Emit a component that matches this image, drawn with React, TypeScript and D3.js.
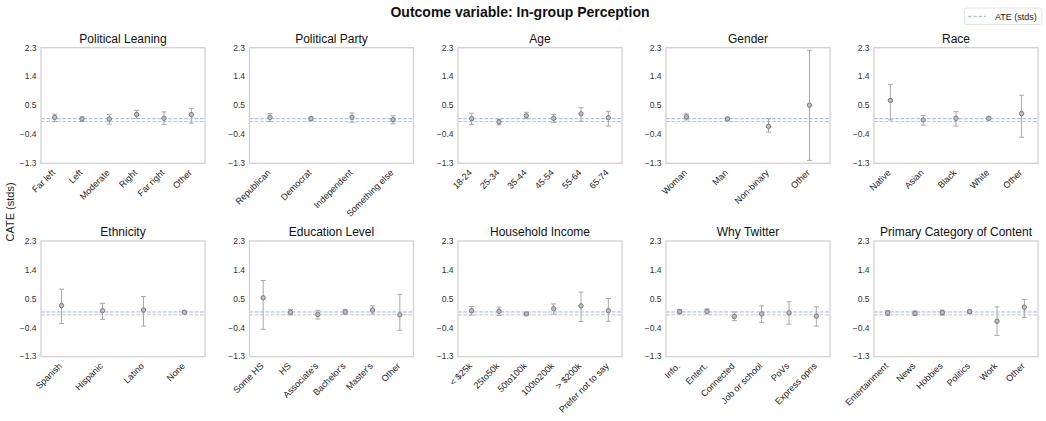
import * as d3 from 'd3';

// ---- data ----
const yTicks = [2.3, 1.4, 0.5, -0.4, -1.3];
const ate = 0.09;

const leaningCats = ['Far left', 'Left', 'Moderate', 'Right', 'Far right', 'Other'];
const leaningEst = [0.13, 0.08, 0.08, 0.22, 0.1, 0.22];
const leaningLo = [0.0, 0.0, -0.08, 0.1, -0.09, -0.05];
const leaningHi = [0.23, 0.15, 0.22, 0.35, 0.3, 0.41];

const partyCats = ['Republican', 'Democrat', 'Independent', 'Something else'];
const partyEst = [0.13, 0.09, 0.13, 0.06];
const partyLo = [0.0, 0.03, -0.02, -0.07];
const partyHi = [0.25, 0.15, 0.27, 0.18];

const ageCats = ['18-24', '25-34', '35-44', '45-54', '55-64', '65-74'];
const ageEst = [0.09, -0.01, 0.18, 0.1, 0.24, 0.12];
const ageLo = [-0.09, -0.1, 0.09, -0.03, 0.01, -0.14];
const ageHi = [0.26, 0.07, 0.29, 0.22, 0.43, 0.32];

const genderCats = ['Woman', 'Man', 'Non-binary', 'Other'];
const genderEst = [0.15, 0.08, -0.15, 0.51];
const genderLo = [0.05, 0.03, -0.33, -1.21];
const genderHi = [0.24, 0.13, 0.09, 2.22];

const raceCats = ['Native', 'Asian', 'Black', 'White', 'Other'];
const raceEst = [0.66, 0.05, 0.1, 0.1, 0.25];
const raceLo = [0.05, -0.11, -0.14, 0.05, -0.49];
const raceHi = [1.16, 0.19, 0.31, 0.15, 0.82];

const ethnCats = ['Spanish', 'Hispanic', 'Latino', 'None'];
const ethnEst = [0.29, 0.13, 0.15, 0.08];
const ethnLo = [-0.27, -0.14, -0.35, 0.04];
const ethnHi = [0.8, 0.36, 0.57, 0.12];

const eduCats = ['Some HS', 'HS', "Associate's", "Bachelor's", "Master's", 'Other'];
const eduEst = [0.53, 0.08, 0.01, 0.09, 0.15, 0.0];
const eduLo = [-0.45, 0.0, -0.13, 0.02, 0.03, -0.48];
const eduHi = [1.07, 0.17, 0.14, 0.17, 0.28, 0.64];

const incomeCats = ['< $25k', '25to50k', '50to100k', '100to200k', '> $200k', 'Prefer not to say'];
const incomeEst = [0.13, 0.11, 0.03, 0.19, 0.28, 0.13];
const incomeLo = [-0.01, -0.02, -0.01, 0.02, -0.21, -0.2];
const incomeHi = [0.26, 0.24, 0.07, 0.34, 0.71, 0.51];

const whyCats = ['Info.', 'Entert.', 'Connected', 'Job or school', 'PoVs', 'Express opns'];
const whyEst = [0.1, 0.11, -0.05, 0.03, 0.06, -0.04];
const whyLo = [0.03, 0.03, -0.18, -0.24, -0.29, -0.35];
const whyHi = [0.17, 0.18, 0.09, 0.28, 0.41, 0.25];

const contentCats = ['Entertainment', 'News', 'Hobbies', 'Politics', 'Work', 'Other'];
const contentEst = [0.06, 0.05, 0.07, 0.1, -0.2, 0.24];
const contentLo = [-0.02, -0.02, -0.01, 0.04, -0.64, -0.08];
const contentHi = [0.13, 0.12, 0.15, 0.15, 0.25, 0.48];

const panels = [
  { title: 'Political Leaning', cats: leaningCats, est: leaningEst, lo: leaningLo, hi: leaningHi },
  { title: 'Political Party', cats: partyCats, est: partyEst, lo: partyLo, hi: partyHi },
  { title: 'Age', cats: ageCats, est: ageEst, lo: ageLo, hi: ageHi },
  { title: 'Gender', cats: genderCats, est: genderEst, lo: genderLo, hi: genderHi },
  { title: 'Race', cats: raceCats, est: raceEst, lo: raceLo, hi: raceHi },
  { title: 'Ethnicity', cats: ethnCats, est: ethnEst, lo: ethnLo, hi: ethnHi },
  { title: 'Education Level', cats: eduCats, est: eduEst, lo: eduLo, hi: eduHi },
  { title: 'Household Income', cats: incomeCats, est: incomeEst, lo: incomeLo, hi: incomeHi },
  { title: 'Why Twitter', cats: whyCats, est: whyEst, lo: whyLo, hi: whyHi },
  { title: 'Primary Category of Content', cats: contentCats, est: contentEst, lo: contentLo, hi: contentHi },
];

// ---- layout ----
const W = 1046;
const H = 421;
const panelW = 164;
const panelH = 115.6;
const colX = [41, 249.5, 458, 666, 874];
const rowY = [47.7, 241];
const FONT = '"Liberation Sans", Arial, Helvetica, sans-serif';
const ateColor = '#9fb2f2';
const fmt = (v: number) => (v < 0 ? '\u2212' + Math.abs(v).toFixed(1) : v.toFixed(1));

function Panel({ p, x0, y0 }: { p: typeof panels[number]; x0: number; y0: number }) {
  const x = d3.scalePoint<string>().domain(p.cats).range([x0, x0 + panelW]).padding(0.5);
  const y = d3.scaleLinear().domain([-1.3, 2.3]).range([y0 + panelH, y0]);
  const cap = 2.5;
  return (
    <g>
      <text x={x0 + panelW / 2} y={y0 - 5} textAnchor="middle" fontSize={12} fill="#111">
        {p.title}
      </text>
      {yTicks.map(t => (
        <text key={t} x={x0 - 4.5} y={y(t)} dy="0.33em" textAnchor="end" fontSize={8.5} fill="#333">
          {fmt(t)}
        </text>
      ))}
      <line x1={x0} x2={x0 + panelW} y1={y(ate)} y2={y(ate)} stroke={ateColor} strokeWidth={1} strokeDasharray="3.7,1.6" />
      <line x1={x0} x2={x0 + panelW} y1={y(0)} y2={y(0)} stroke="#c4c4c4" strokeWidth={1} strokeDasharray="3.7,1.6" />
      {p.cats.map((c, i) => {
        const cx = x(c)!;
        return (
          <g key={c}>
            <line x1={cx} x2={cx} y1={y(p.lo[i])} y2={y(p.hi[i])} stroke="#a8a8a8" strokeWidth={1} />
            <line x1={cx - cap} x2={cx + cap} y1={y(p.lo[i])} y2={y(p.lo[i])} stroke="#a8a8a8" strokeWidth={1} />
            <line x1={cx - cap} x2={cx + cap} y1={y(p.hi[i])} y2={y(p.hi[i])} stroke="#a8a8a8" strokeWidth={1} />
            <circle cx={cx} cy={y(p.est[i])} r={2.2} fill="#bdbdbd" stroke="#7c7c7c" strokeWidth={1} />
            <text
              transform={`translate(${cx + 1},${y0 + panelH + 10}) rotate(-45)`}
              textAnchor="end"
              fontSize={9}
              fill="#222"
            >
              {c}
            </text>
          </g>
        );
      })}
      <rect x={x0} y={y0} width={panelW} height={panelH} fill="none" stroke="#d2d2d2" strokeWidth={1.3} />
    </g>
  );
}

export default function App() {
  return (
    <svg
      width={W}
      height={H}
      viewBox={`0 0 ${W} ${H}`}
      style={{ position: 'absolute', left: 0, top: 0, background: '#fff' }}
      fontFamily={FONT}
    >
      <rect width={W} height={H} fill="#fff" />
      <text x={520} y={17} textAnchor="middle" fontSize={14} fontWeight="bold" fill="#111">
        Outcome variable: In-group Perception
      </text>
      <text transform={`translate(14,212) rotate(-90)`} textAnchor="middle" fontSize={11} fill="#222">
        CATE (stds)
      </text>
      {panels.map((p, i) => (
        <Panel key={p.title} p={p} x0={colX[i % 5]} y0={rowY[Math.floor(i / 5)]} />
      ))}
      <g>
        <rect x={964.5} y={8} width={77.5} height={16.5} rx={2.5} fill="#fff" stroke="#dcdcdc" strokeWidth={0.8} />
        <line x1={968} x2={986} y1={16.3} y2={16.3} stroke={ateColor} strokeWidth={1} strokeDasharray="3.7,1.6" />
        <text x={995} y={19.5} fontSize={9} fill="#222">
          ATE (stds)
        </text>
      </g>
    </svg>
  );
}
